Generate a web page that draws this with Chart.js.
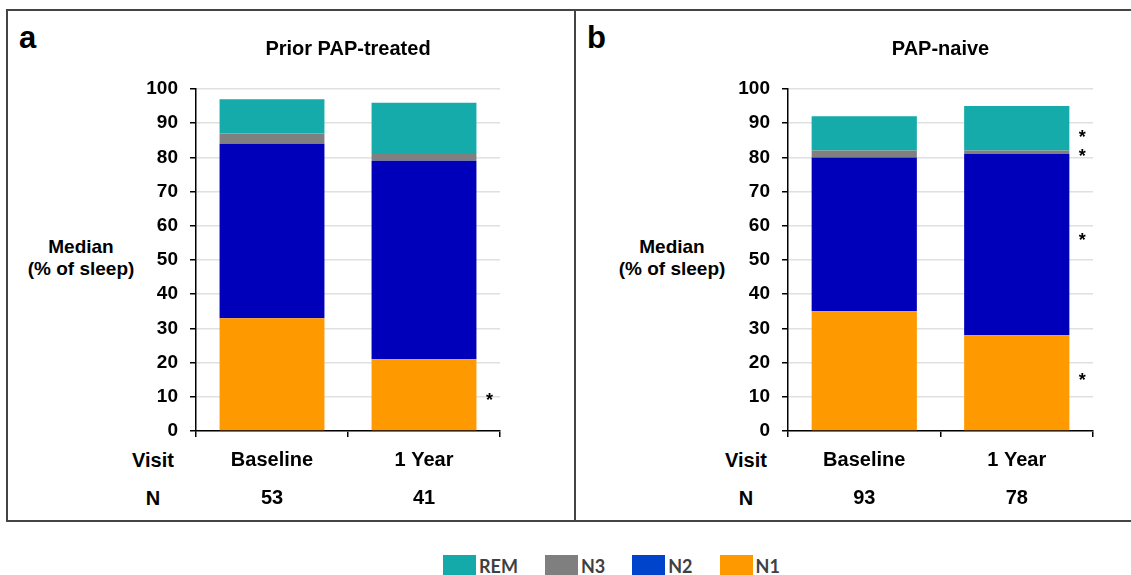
<!DOCTYPE html>
<html>
<head>
<meta charset="utf-8">
<script src="https://cdn.jsdelivr.net/npm/chart.js@4.4.1/dist/chart.umd.min.js"></script>
<style>
html,body{margin:0;padding:0;background:#fff;width:1131px;height:575px;overflow:hidden;font-family:"Liberation Sans",Arial,sans-serif;}
#frame{position:absolute;left:6px;top:9px;width:1150px;height:513px;border:2px solid #444;box-sizing:border-box;}
#divider{position:absolute;left:574px;top:9px;width:2px;height:513px;background:#444;}
.panel{position:absolute;top:11px;}
.panel canvas{display:block;}
.letter{position:absolute;font-weight:bold;font-size:31px;line-height:30px;color:#000;}
.ytitle{position:absolute;width:170px;font-weight:bold;font-size:19px;line-height:22px;text-align:center;color:#000;}
.rowlab{position:absolute;width:80px;font-weight:bold;font-size:20px;line-height:38px;text-align:center;color:#000;}
#legend{position:absolute;left:443px;top:555px;display:flex;align-items:flex-start;font-family:Lato,"Liberation Sans",sans-serif;font-weight:bold;font-size:18px;color:#404040;}
.item{display:flex;align-items:flex-start;margin-right:27px;}
.sw{width:33px;height:24px;margin-right:3px;}
.lt{line-height:20px;}
</style>
</head>
<body>
<div id="frame"></div>
<div id="divider"></div>

<div class="letter" style="left:19px;top:23px;">a</div>
<div class="letter" style="left:587px;top:23px;">b</div>

<div class="ytitle" style="left:-4px;top:236px;">Median<br>(% of sleep)</div>
<div class="ytitle" style="left:587px;top:236px;">Median<br>(% of sleep)</div>

<div class="rowlab" style="left:113px;top:441px;">Visit<br>N</div>
<div class="rowlab" style="left:706px;top:441px;">Visit<br>N</div>

<div class="panel" style="left:8px;"><canvas id="chartA" width="566" height="508"></canvas></div>
<div class="panel" style="left:576px;"><canvas id="chartB" width="555" height="508"></canvas></div>

<div id="legend"></div>

<script>
// ---- data ----
const categories = ['Baseline', '1 Year'];
const nPriorPAP = ['53', '41'];
const nPAPNaive = ['93', '78'];

const seriesNames = ['N1', 'N2', 'N3', 'REM'];
const barColors = ['#ff9900', '#0000bb', '#808080', '#15abab'];
const legendColors = ['#ff9900', '#0044cc', '#7f7f7f', '#14aaaa'];

// Panel a: Prior PAP-treated (median % of sleep)
const priorN1 = [33, 21];
const priorN2 = [51, 58];
const priorN3 = [3, 2];
const priorREM = [10, 15];

// Panel b: PAP-naive
const naiveN1 = [35, 28];
const naiveN2 = [45, 53];
const naiveN3 = [2, 1];
const naiveREM = [10, 13];

// significance asterisks: [category index, y value]
const sigPrior = [[1, 10]];
const sigNaive = [[1, 87], [1, 81.5], [1, 57], [1, 16]];

const yMin = 0, yMax = 100, yStep = 10;

// ---- chart ----
Chart.defaults.font.family = '"Liberation Sans", Arial, sans-serif';
Chart.defaults.color = '#000';

const starPlugin = {
  id: 'stars',
  afterDatasetsDraw(chart, args, opts) {
    const ctx = chart.ctx;
    const ys = chart.scales.y;
    const meta = chart.getDatasetMeta(0);
    ctx.save();
    ctx.font = 'bold 18px "Liberation Sans", Arial, sans-serif';
    ctx.fillStyle = '#000';
    ctx.textAlign = 'center';
    ctx.textBaseline = 'alphabetic';
    const m = ctx.measureText('*');
    const A = m.actualBoundingBoxAscent, D = m.actualBoundingBoxDescent;
    (opts.marks || []).forEach(([ci, v]) => {
      const bar = meta.data[ci];
      const x = bar.x + bar.width / 2 + 13;
      const y = ys.getPixelForValue(v) + (A - D) / 2;
      ctx.fillText('*', x, y);
    });
    ctx.restore();
  }
};

function makeChart(id, title, series, nLabels, marks, yWidth, padRight) {
  const labels = categories.map((c, i) => [c, nLabels[i]]);
  const datasets = seriesNames.map((name, i) => ({
    label: name,
    data: series[i],
    backgroundColor: barColors[i],
    borderWidth: 0,
    categoryPercentage: 0.69,
    barPercentage: 1.0
  }));
  return new Chart(document.getElementById(id), {
    type: 'bar',
    data: { labels, datasets },
    plugins: [starPlugin],
    options: {
      responsive: false,
      animation: false,
      devicePixelRatio: 1,
      layout: { padding: { left: 0, right: padRight, top: 0, bottom: 0 } },
      plugins: {
        legend: { display: false },
        tooltip: { enabled: false },
        title: {
          display: true,
          text: title,
          fullSize: false,
          color: '#000',
          font: { size: 20, weight: 'bold', lineHeight: 1.2 },
          padding: { top: 26, bottom: 28 }
        },
        stars: { marks }
      },
      scales: {
        x: {
          stacked: true,
          grid: { display: true, drawOnChartArea: false, drawTicks: true, tickLength: 6, color: '#000', tickColor: '#000', lineWidth: 1.5 },
          border: { display: true, color: '#000', width: 1.5 },
          ticks: { color: '#000', padding: 4, maxRotation: 0, autoSkip: false, font: { size: 20, weight: 'bold', lineHeight: 1.9 } },
          afterFit(scale) { scale.height = 88; }
        },
        y: {
          stacked: true,
          min: yMin, max: yMax,
          grid: { color: '#e0e0e0', lineWidth: 1.5, tickColor: '#000', tickLength: 6, drawTicks: true },
          border: { display: true, color: '#000', width: 1.5 },
          ticks: { stepSize: yStep, color: '#000', padding: 12, font: { size: 19, weight: 'bold' } },
          afterFit(scale) { scale.width = yWidth; }
        }
      }
    }
  });
}

makeChart('chartA', 'Prior PAP-treated', [priorN1, priorN2, priorN3, priorREM], nPriorPAP, sigPrior, 188, 74);
makeChart('chartB', 'PAP-naive', [naiveN1, naiveN2, naiveN3, naiveREM], nPAPNaive, sigNaive, 212, 38);

// ---- legend (top series first) ----
const leg = document.getElementById('legend');
for (let i = seriesNames.length - 1; i >= 0; i--) {
  const it = document.createElement('div');
  it.className = 'item';
  const sw = document.createElement('div');
  sw.className = 'sw';
  sw.style.background = legendColors[i];
  const t = document.createElement('div');
  t.className = 'lt';
  t.textContent = seriesNames[i];
  t.style.marginTop = '1px';
  it.appendChild(sw); it.appendChild(t);
  leg.appendChild(it);
}
</script>
</body>
</html>
